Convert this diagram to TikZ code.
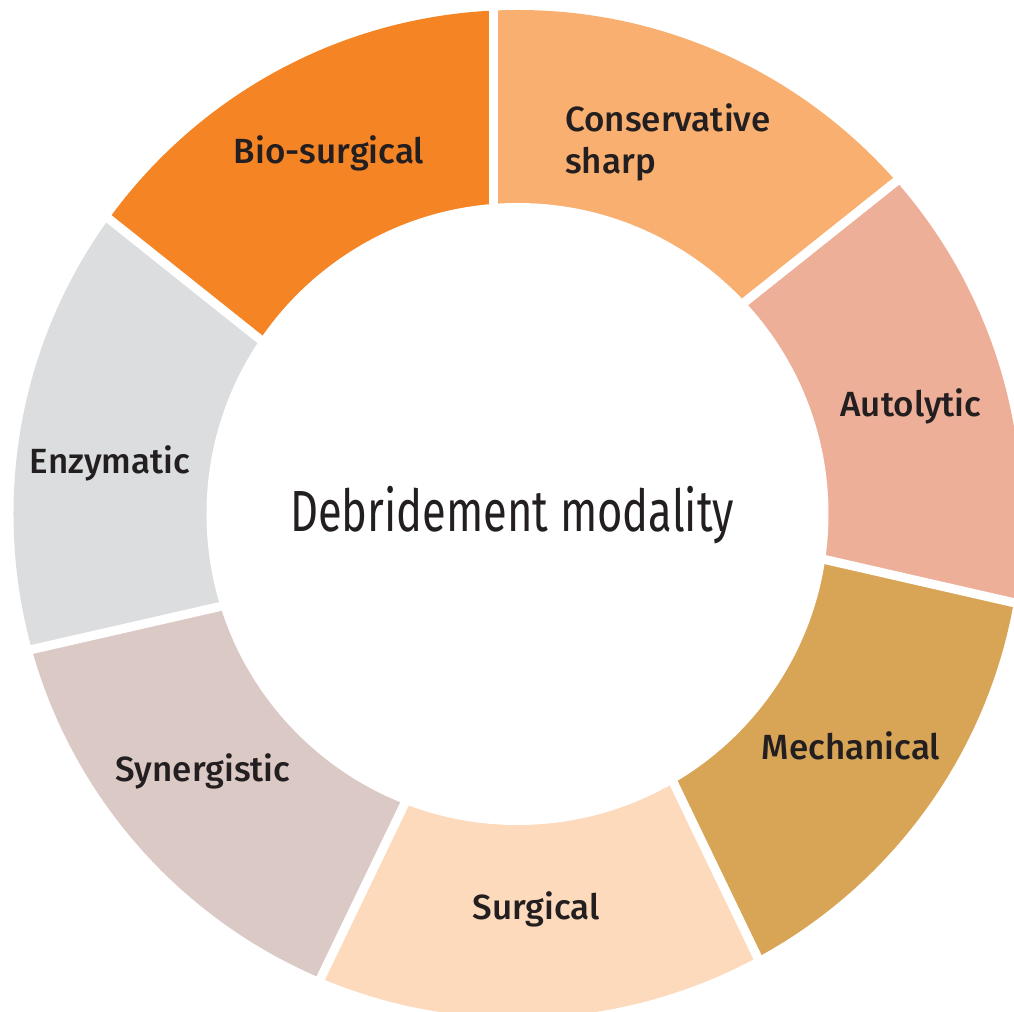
\documentclass[tikz,border=0pt]{standalone}
\usepackage{xcolor}
\usepackage{fontspec}
\setmainfont{Fira Sans}
\newfontfamily\labelfont{Fira Sans Medium}
\newfontfamily\hubfont{Fira Sans}[FakeStretch=0.75]
\usetikzlibrary{calc}

\definecolor{biosurg}{HTML}{F48424}
\definecolor{consharp}{HTML}{F9AF70}
\definecolor{autolytic}{HTML}{EEAF98}
\definecolor{mechanical}{HTML}{D8A556}
\definecolor{surgical}{HTML}{FDDABC}
\definecolor{synergy}{HTML}{DBC9C5}
\definecolor{enzyme}{HTML}{DCDDDF}
\definecolor{ink}{HTML}{231F20}

\tikzset{
	modality/.style={text=ink, inner sep=0pt, anchor=base,
		font=\labelfont\fontsize{19.9}{24}\selectfont},
}

\begin{document}
\begin{tikzpicture}[x=0.2mm, y=0.2mm]
			\coordinate (O) at (0,0);
			
			\def\ro{504};
			\def\ri{311};
			\def\s{24};
			\def\gap{1.8mm};
			
			\useasboundingbox (-517.5,-498) rectangle (496.5,514);
			
			%segment borders, clockwise from the top
			\coordinate (q1) at (180:\s);
			\coordinate (q2) at (128.57:\s);
			\coordinate (q3) at (77.14:\s);
			\coordinate (q4) at (25.71:\s);
			\coordinate (q5) at (-25.71:\s);
			\coordinate (q6) at (-77.14:\s);
			\coordinate (q7) at (-128.57:\s);
			
			\coordinate (f1) at ($(q1)+(90:700)$);
			\coordinate (f2) at ($(q2)+(38.57:700)$);
			\coordinate (f3) at ($(q3)+(-12.86:700)$);
			\coordinate (f4) at ($(q4)+(-64.29:700)$);
			\coordinate (f5) at ($(q5)+(-115.71:700)$);
			\coordinate (f6) at ($(q6)+(-167.14:700)$);
			\coordinate (f7) at ($(q7)+(141.43:700)$);
			
			\begin{scope}
				\clip (O) circle [radius = \ro];
				\fill [biosurg] (q7) -- (f7) -- (f1) -- (q1) -- (O) -- cycle;
				\fill [consharp] (q1) -- (f1) -- (f2) -- (q2) -- (O) -- cycle;
				\fill [autolytic] (q2) -- (f2) -- (f3) -- (q3) -- (O) -- cycle;
				\fill [mechanical] (q3) -- (f3) -- (f4) -- (q4) -- (O) -- cycle;
				\fill [surgical] (q4) -- (f4) -- (f5) -- (q5) -- (O) -- cycle;
				\fill [synergy] (q5) -- (f5) -- (f6) -- (q6) -- (O) -- cycle;
				\fill [enzyme] (q6) -- (f6) -- (f7) -- (q7) -- (O) -- cycle;
			\end{scope}
			
			\fill [white] (O) circle [radius = \ri];
			
			%gaps
			\draw [white, line width=\gap] (q1) -- (f1);
			\draw [white, line width=\gap] (q2) -- (f2);
			\draw [white, line width=\gap] (q3) -- (f3);
			\draw [white, line width=\gap] (q4) -- (f4);
			\draw [white, line width=\gap] (q5) -- (f5);
			\draw [white, line width=\gap] (q6) -- (f6);
			\draw [white, line width=\gap] (q7) -- (f7);
			
			%labels
			\node [modality] (bio) at (-188.5,350) {Bio-surgical};
			\node [modality, anchor=base west, align=left] (cons) at (47.5,340) {Conservative\\sharp};
			\node [modality] (auto) at (393.5,97) {Autolytic};
			\node [modality] (mech) at (333.5,-246) {Mechanical};
			\node [modality] (surg) at (18.5,-406) {Surgical};
			\node [modality] (syn) at (-314.5,-268) {Synergistic};
			\node [modality] (enz) at (-407.5,40) {Enzymatic};
			
			\node [text=ink, inner sep=0pt, anchor=base, font=\hubfont\fontsize{33}{40}\selectfont] (hub) at (-5.5,-18) {Debridement modality};
		\end{tikzpicture}
\end{document}
